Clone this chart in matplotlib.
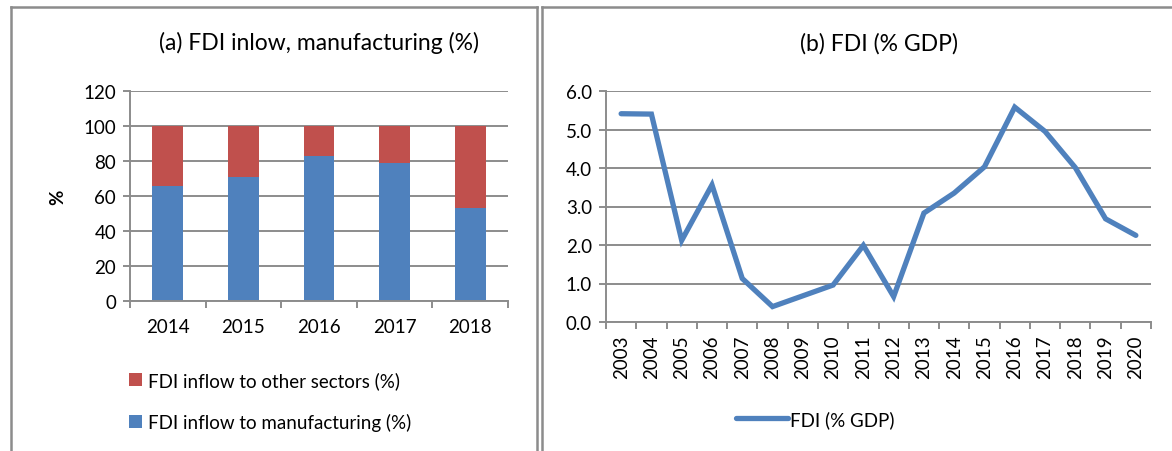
import matplotlib.pyplot as plt
from matplotlib.lines import Line2D
import numpy as np

plt.rcParams['font.family'] = ['Lato', 'DejaVu Sans']

# panel (a) data
bar_years = ['2014', '2015', '2016', '2017', '2018']
manuf = [66, 71, 83, 79, 53]
other = [34, 29, 17, 21, 47]

# panel (b) data
line_years = ['2003', '2004', '2005', '2006', '2007', '2008', '2009', '2010', '2011',
              '2012', '2013', '2014', '2015', '2016', '2017', '2018', '2019', '2020']
fdi_gdp = [5.41, 5.40, 2.12, 3.56, 1.13, 0.40, 0.68, 0.96, 1.99,
           0.66, 2.83, 3.35, 4.03, 5.58, 4.95, 4.01, 2.68, 2.25]

BLUE = '#4F81BD'
RED = '#C0504D'
GRID = '#8C8C8C'
W, H = 1172, 452
FS = 13.5

fig = plt.figure(figsize=(W / 100, H / 100), dpi=100)

def fx(px): return px / W
def fy(py): return 1 - py / H

# panel borders
for xs, ys in [((11, 11), (452, 8)), ((11, 537), (8, 8)), ((537, 537), (8, 452)),
               ((542, 542), (452, 8)), ((542, 1172), (8, 8))]:
    fig.add_artist(Line2D([fx(x) for x in xs], [fy(y) for y in ys],
                          color='#8C8C8C', lw=1.8))

def style_axes(ax):
    for s in ['top', 'right']:
        ax.spines[s].set_visible(False)
    for s in ['left', 'bottom']:
        ax.spines[s].set_color(GRID)
        ax.spines[s].set_linewidth(1.4)
    ax.yaxis.grid(True, color=GRID, lw=1.4)
    ax.set_axisbelow(True)
    ax.tick_params(axis='both', which='major', color=GRID, width=1.4, length=5,
                   labelsize=FS, labelcolor='black')

# ---- (a) stacked bars
ax1 = fig.add_axes([fx(130), fy(302), fx(508) - fx(130), fy(92) - fy(302)])
x = np.arange(len(bar_years))
ax1.bar(x, manuf, width=0.41, color=BLUE, label='FDI inflow to manufacturing (%)', zorder=2)
ax1.bar(x, other, width=0.41, bottom=manuf, color=RED, label='FDI inflow to other sectors (%)', zorder=2)
ax1.set_xlim(-0.5, len(bar_years) - 0.5)
ax1.set_ylim(0, 120)
ax1.set_yticks(np.arange(0, 121, 20))
style_axes(ax1)
ax1.set_xticks(np.arange(-0.5, len(bar_years)))
ax1.set_xticklabels([])
ax1.set_xticks(x, minor=True)
ax1.set_xticklabels(bar_years, minor=True)
ax1.tick_params(axis='x', which='minor', length=0, labelsize=FS, pad=12)
ax1.tick_params(axis='y', pad=5)
ax1.set_ylabel('%', fontsize=13.5, fontweight='bold', labelpad=12)
ax1.set_title('(a) FDI inlow, manufacturing (%)', fontsize=16.5, pad=30)
h, l = ax1.get_legend_handles_labels()
fig.legend(h[::-1], l[::-1], loc='center left', bbox_to_anchor=(fx(129), fy(402)),
           frameon=False, fontsize=FS, handlelength=0.7, handleheight=0.7,
           handletextpad=0.3, labelspacing=1.25, borderpad=0, borderaxespad=0)

# ---- (b) line
ax2 = fig.add_axes([fx(606), fy(323), fx(1151) - fx(606), fy(92) - fy(323)])
xl = np.arange(len(line_years))
ax2.plot(xl, fdi_gdp, color=BLUE, lw=3.8, solid_joinstyle='miter',
         solid_capstyle='round', label='FDI (% GDP)')
ax2.set_xlim(-0.5, len(line_years) - 0.5)
ax2.set_ylim(0, 6)
ax2.set_yticks(np.arange(0, 6.1, 1.0))
ax2.set_yticklabels([f'{v:.1f}' for v in np.arange(0, 6.1, 1.0)])
style_axes(ax2)
ax2.set_xticks(np.arange(-0.5, len(line_years)))
ax2.set_xticklabels([])
ax2.set_xticks(xl, minor=True)
ax2.set_xticklabels(line_years, minor=True, rotation=90)
ax2.tick_params(axis='x', which='minor', length=0, labelsize=FS, pad=9)
ax2.tick_params(axis='y', pad=5)
ax2.set_title('(b) FDI (% GDP)', fontsize=16.5, pad=30)
fig.legend(loc='center', bbox_to_anchor=(fx(815), fy(420)), frameon=False,
           fontsize=FS, handlelength=2.8, handletextpad=0.1, borderpad=0,
           handles=ax2.get_lines())

fig.savefig('out.png', dpi=100)
